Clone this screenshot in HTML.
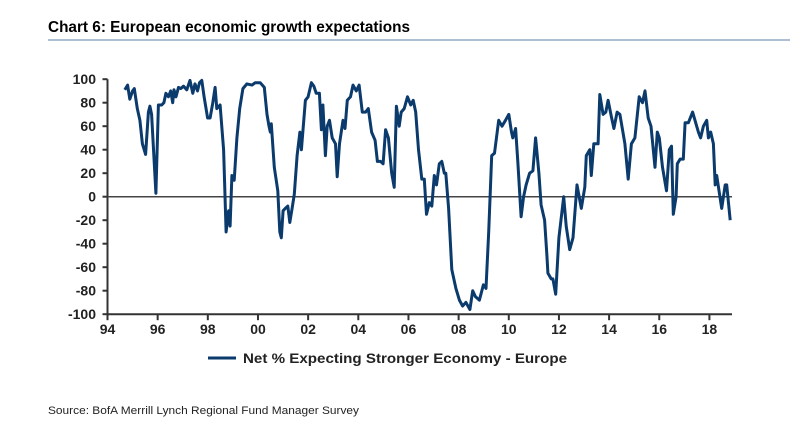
<!DOCTYPE html>
<html><head><meta charset="utf-8"><style>
body{margin:0;background:#fff;width:811px;height:448px;overflow:hidden;font-family:"Liberation Sans",Arial,sans-serif}
</style></head><body>
<svg width="811" height="448" style="position:absolute;left:0;top:0">
<text x="48" y="32" font-size="16" font-weight="bold" fill="#000" textLength="362" lengthAdjust="spacingAndGlyphs">Chart 6: European economic growth expectations</text>
<line x1="48" y1="40" x2="790" y2="40" stroke="#5b7fa6" stroke-width="1"/>
<g id="axes"></g>
<g id="series"></g>
<line x1="208" y1="358" x2="236" y2="358" stroke="#0b3a6c" stroke-width="3"/>
<text x="243" y="363" font-size="14" font-weight="bold" fill="#222" textLength="324" lengthAdjust="spacingAndGlyphs">Net % Expecting Stronger Economy - Europe</text>
<text x="48" y="414" font-size="11" fill="#222" textLength="311" lengthAdjust="spacingAndGlyphs">Source: BofA Merrill Lynch Regional Fund Manager Survey</text>
</svg>
<script>
const years=[94.69,94.80,94.89,95.00,95.07,95.19,95.29,95.39,95.52,95.63,95.69,95.76,95.93,96.03,96.16,96.25,96.33,96.43,96.52,96.60,96.65,96.73,96.83,96.92,97.03,97.16,97.29,97.40,97.49,97.59,97.67,97.76,97.85,97.99,98.09,98.20,98.29,98.36,98.49,98.63,98.73,98.83,98.89,98.96,99.05,99.16,99.27,99.40,99.56,99.76,99.89,100.09,100.25,100.36,100.44,100.49,100.53,100.65,100.79,100.87,100.93,101.00,101.09,101.19,101.27,101.36,101.45,101.56,101.67,
101.73,101.89,102.00,102.13,102.23,102.32,102.45,102.53,102.59,102.69,102.76,102.85,102.96,103.09,103.16,103.25,103.39,103.47,103.56,103.69,103.79,103.92,104.03,104.16,104.29,104.40,104.53,104.67,104.76,104.89,104.99,105.09,105.20,105.33,105.43,105.52,105.63,105.71,105.83,105.96,106.09,106.19,106.29,106.40,106.53,106.63,106.72,106.83,106.93,107.03,107.12,107.23,107.33,107.43,107.49,107.60,107.73,107.89,108.03,108.16,108.29,108.45,108.56,108.67,108.83,108.99,109.09,109.20,109.32,109.43,109.60,109.73,109.87,110.00,110.11,110.16,110.27,110.36,110.49,110.59,110.69,110.83,110.96,111.07,111.20,111.29,111.43,111.52,
111.56,111.69,111.76,111.87,112.00,112.19,112.29,112.43,112.56,112.72,112.89,113.03,113.09,113.23,113.29,113.39,113.56,113.63,113.76,113.87,113.96,114.09,114.19,114.32,114.43,114.63,114.76,114.89,115.03,115.20,115.33,115.43,115.56,115.67,115.83,115.92,116.00,116.13,116.29,116.40,116.49,116.56,116.67,116.72,116.83,116.96,117.03,117.16,117.33,117.56,117.65,117.76,117.89,117.96,118.05,118.16,118.23,118.29,118.49,118.63,118.69,118.83];
const values=[91,95,83,90,92,75,65,45,36,72,77,70,3,78,78,80,88,85,90,80,91,85,93,92,94,91,99,88,96,90,97,99,85,67,67,80,93,75,78,40,-30,-12,-25,18,14,50,75,92,96,95,97,97,93,70,60,55,62,25,5,-30,-35,-12,-10,-8,-22,-10,2,35,55,
40,82,85,97,94,88,88,57,78,35,60,65,50,45,17,45,65,58,82,85,95,90,95,72,72,75,55,48,30,30,28,57,50,20,8,77,60,72,75,85,78,82,72,40,15,15,-15,-5,-8,18,10,28,30,20,20,-10,-62,-78,-88,-93,-90,-96,-80,-85,-88,-75,-78,-30,35,37,65,60,65,70,55,50,58,30,-17,0,10,20,22,50,20,-7,-20,-50,
-65,-70,-70,-83,-35,0,-25,-45,-35,10,-10,8,35,40,18,45,45,87,70,72,82,68,58,72,70,45,15,45,50,85,80,90,67,60,25,55,50,25,5,40,43,-15,0,28,32,32,63,63,72,55,50,60,65,50,55,45,10,18,-10,10,10,-20];
const yTicks=[100,80,60,40,20,0,-20,-40,-60,-80,-100];
const xTicks=[94,96,98,100,102,104,106,108,110,112,114,116,118];
const xLabels=["94","96","98","00","02","04","06","08","10","12","14","16","18"];
const NS="http://www.w3.org/2000/svg";
const X0=107.5,XPER=25.08,Y0=196.7,YS=1.175;
function xs(v){return X0+(v-94)*XPER;}
function ys(v){return Y0-v*YS;}
const ax=document.getElementById('axes');
function mk(t,a,p){const e=document.createElementNS(NS,t);for(const k in a)e.setAttribute(k,a[k]);p.appendChild(e);return e;}
const yl=mk('line',{x1:X0,y1:ys(100),x2:X0,y2:ys(-100),stroke:'#333','stroke-width':2},ax);


const xl=mk('line',{x1:X0,y1:ys(-100),x2:732,y2:ys(-100),stroke:'#333','stroke-width':2},ax);


const zl=mk('line',{x1:X0,y1:ys(0),x2:732,y2:ys(0),stroke:'#444','stroke-width':1.5},ax);


yTicks.forEach(v=>{
 mk('line',{x1:X0-5,y1:ys(v),x2:X0,y2:ys(v),stroke:'#333','stroke-width':2},ax);
 const t=mk('text',{x:96,y:ys(v)+5,'text-anchor':'end','font-size':14,'font-weight':'bold',fill:'#222'},ax);
 t.textContent=v;
 
 
});
xTicks.forEach((v,i)=>{
 mk('line',{x1:xs(v),y1:ys(-100),x2:xs(v),y2:ys(-100)+6,stroke:'#333','stroke-width':2},ax);
 const t=mk('text',{x:xs(v),y:334,'text-anchor':'middle','font-size':14,'font-weight':'bold',fill:'#222'},ax);
 t.textContent=xLabels[i];
 
 
});
const d=years.map((y,i)=>(i?'L':'M')+xs(y).toFixed(1)+','+ys(values[i]).toFixed(1)).join('');
const p=mk('path',{d:d,fill:'none',stroke:'#0b3a6c','stroke-width':3,'stroke-linejoin':'round'},document.getElementById('series'));


</script>
</body></html>
